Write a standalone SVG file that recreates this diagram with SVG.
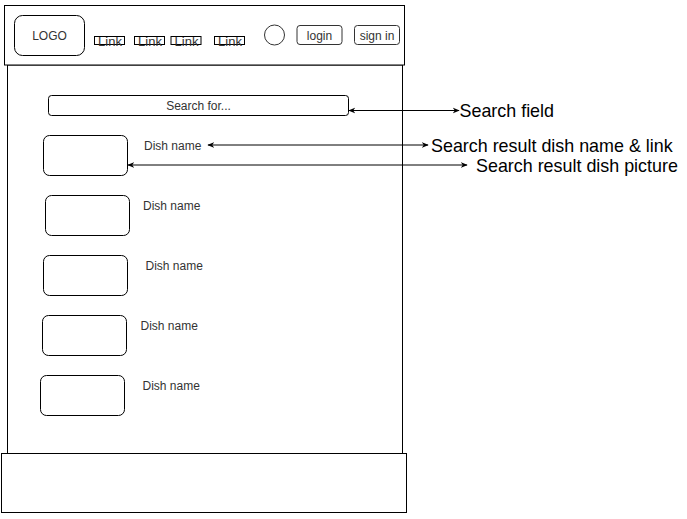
<svg xmlns="http://www.w3.org/2000/svg" width="687" height="519" viewBox="0 0 687 519">
<defs>
<marker id="ah" viewBox="0 0 10 10" refX="9" refY="5" markerWidth="7" markerHeight="7" orient="auto-start-reverse" markerUnits="userSpaceOnUse">
<path d="M0,1 L10,5 L0,9 L3,5 Z" fill="#000"/>
</marker>
</defs>
<style>
.box{fill:#fff;stroke:#000;stroke-width:1}
.btn{fill:#fff;stroke:#333;stroke-width:1}
.t{font-family:"Liberation Sans",Arial,sans-serif;font-size:12px;fill:#333}
.tc{text-anchor:middle}
.big{font-family:"Liberation Sans",Arial,sans-serif;font-size:17.9px;fill:#000}
.conn{stroke:#000;stroke-width:1;fill:none;marker-start:url(#ah);marker-end:url(#ah)}
</style>
<rect width="687" height="519" fill="#fff"/>
<g id="body"><rect class="box" x="7.5" y="65" width="395" height="388.5"/></g>
<g id="header">
<rect class="box" x="4.5" y="5.5" width="400" height="59.5"/>
</g>
<g id="logo"><rect class="box" x="14.5" y="15.5" width="70" height="40" rx="8"/><text class="t tc" x="49.5" y="40">LOGO</text></g>
<g id="link1"><rect class="box" x="94.5" y="36.5" width="30" height="8"/><text class="t tc" x="110" y="45.5" style="font-size:13px">Link</text></g>
<g id="link2"><rect class="box" x="134.5" y="36.5" width="30" height="8"/><text class="t tc" x="150" y="45.5" style="font-size:13px">Link</text></g>
<g id="link3"><rect class="box" x="171" y="36.5" width="30" height="8"/><text class="t tc" x="186.5" y="45.5" style="font-size:13px">Link</text></g>
<g id="link4"><rect class="box" x="214.5" y="36.5" width="30" height="8"/><text class="t tc" x="230" y="45.5" style="font-size:13px">Link</text></g>
<g id="avatar"><circle class="btn" cx="274.5" cy="35" r="10"/></g>
<g id="login"><rect class="btn" x="297" y="25.5" width="45" height="19" rx="3"/><text class="t tc" x="319.5" y="40">login</text></g>
<g id="signin"><rect class="btn" x="354.5" y="25.5" width="45" height="19" rx="3"/><text class="t tc" x="377" y="40">sign in</text></g>
<g id="search"><rect class="box" x="48.5" y="95.5" width="300" height="20" rx="3"/><text class="t tc" x="198.5" y="110">Search for...</text></g>
<g id="dish1"><rect class="box" x="43.5" y="135.5" width="84" height="40" rx="6"/><text class="t" x="144" y="150">Dish name</text></g>
<g id="dish2"><rect class="box" x="45.5" y="195.5" width="84" height="40" rx="6"/><text class="t" x="143" y="210">Dish name</text></g>
<g id="dish3"><rect class="box" x="43.5" y="255.5" width="84" height="40" rx="6"/><text class="t" x="145.5" y="270">Dish name</text></g>
<g id="dish4"><rect class="box" x="42.5" y="315.5" width="84" height="40" rx="6"/><text class="t" x="140.5" y="330">Dish name</text></g>
<g id="dish5"><rect class="box" x="40.5" y="375.5" width="84" height="40" rx="6"/><text class="t" x="142.5" y="390">Dish name</text></g>
<g id="footer"><rect class="box" x="1.5" y="453.5" width="405" height="59"/></g>
<g id="connectors">
<line class="conn" x1="349" y1="110.5" x2="459" y2="110.5"/>
<line class="conn" x1="208" y1="145" x2="428" y2="145"/>
<line class="conn" x1="128" y1="165" x2="467" y2="165"/>
</g>
<g id="labels">
<text class="big" x="459.5" y="116.5">Search field</text>
<text class="big" x="431" y="151.5">Search result dish name &amp; link</text>
<text class="big" x="476" y="171.5">Search result dish picture</text>
</g>
</svg>
